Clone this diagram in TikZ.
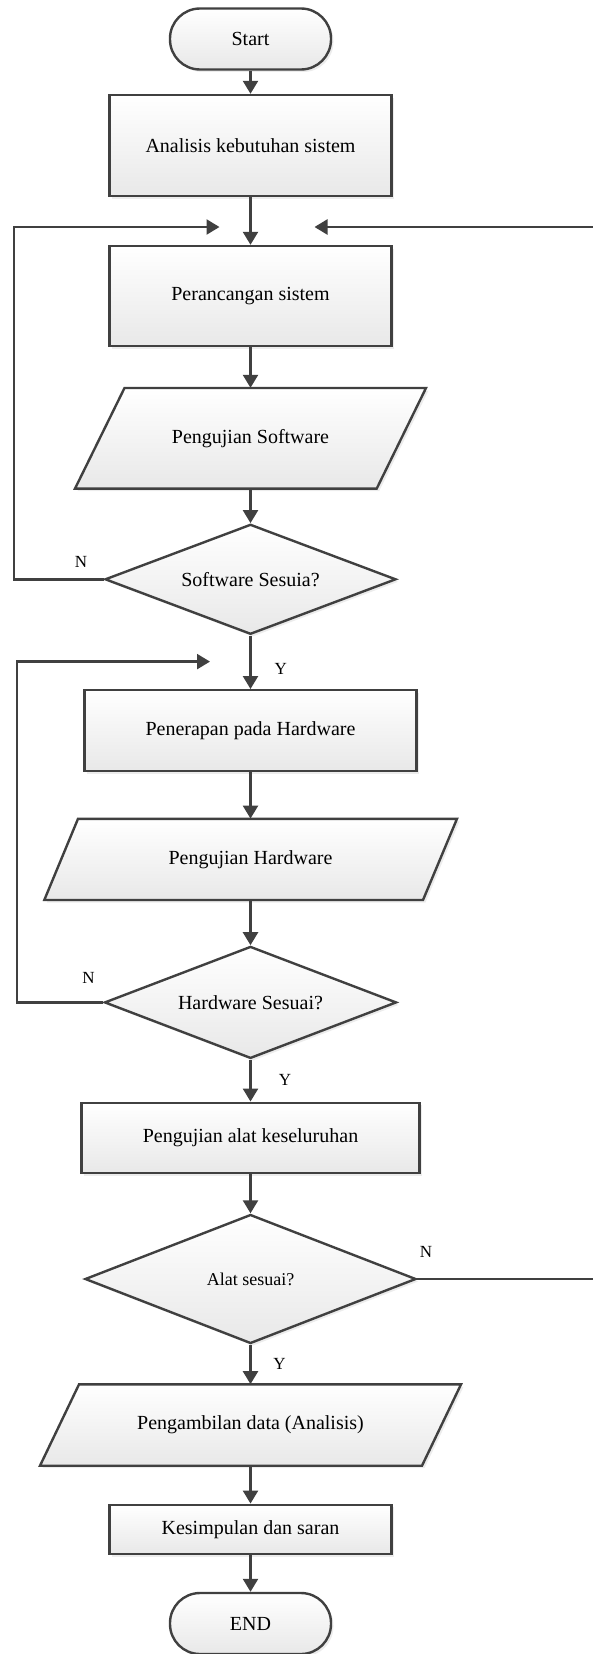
\documentclass[tikz,border=0pt]{standalone}
\usepackage{fontspec}
\setmainfont{Liberation Serif}
\usetikzlibrary{shapes.geometric,arrows.meta,shadows}
\definecolor{edgegray}{HTML}{404040}
\begin{document}
\begin{tikzpicture}[x=1pt,y=-1pt,
  skin/.style={draw=edgegray, line width=2.4pt, top color=white, bottom color=black!9,
    drop shadow={shadow xshift=2.5pt,shadow yshift=-2.5pt,opacity=0.15}},
  base/.style={skin, inner sep=0pt, text=black, font=\fontsize{20}{23}\selectfont},
  terminal/.style={base, rectangle, rounded corners=30pt, minimum width=161pt, minimum height=61pt},
  process/.style={base, rectangle},
  iotext/.style={rectangle, inner sep=0pt, text=black, font=\fontsize{20}{23}\selectfont},
  decision/.style={base, diamond},
  flow/.style={draw=edgegray, line width=2.4pt, -{Triangle[length=13pt,width=15pt]}},
  plain/.style={draw=edgegray, line width=2.4pt},
  lbl/.style={text=black, font=\fontsize{17}{20}\selectfont, inner sep=0pt}
]
\useasboundingbox (0,0) rectangle (593,1654);

% parallelogram outlines (data steps), text nodes placed on top below
\path[skin] (124.5,388) -- (426,388) -- (376.7,488.6) -- (75,488.6) -- cycle;
\path[skin] (78,818.8) -- (457,818.8) -- (423,900) -- (44.3,900) -- cycle;
\path[skin] (79,1384.4) -- (461,1384.4) -- (422,1465.7) -- (40,1465.7) -- cycle;

% main column
\node[terminal] (start) at (250.5,39) {Start};
\node[process, minimum width=282pt, minimum height=101pt] (ana) at (250.5,145.5) {Analisis kebutuhan sistem};
\node[process, minimum width=282pt, minimum height=100pt] (per) at (250.5,296) {Perancangan sistem};
\node[iotext, minimum width=300pt, minimum height=100.6pt] (psw) at (250.5,438.3) {Pengujian Software};
\node[decision, aspect=2.65, minimum width=291pt, minimum height=110pt] (dsw) at (250.5,579.3) {Software Sesuia?};
\node[process, minimum width=332pt, minimum height=81pt] (pen) at (250.5,730.7) {Penerapan pada Hardware};
\node[iotext, minimum width=378pt, minimum height=81.2pt] (phw) at (250.5,859.4) {Pengujian Hardware};
\node[decision, aspect=2.6, minimum width=292pt, minimum height=112pt] (dhw) at (250.5,1002.4) {Hardware Sesuai?};
\node[process, minimum width=338pt, minimum height=70.5pt] (alat) at (250.5,1138) {Pengujian alat keseluruhan};
\node[decision, aspect=2.57, minimum width=331pt, minimum height=129pt, font=\fontsize{18}{21}\selectfont] (dal) at (250.5,1279) {Alat sesuai?};
\node[iotext, minimum width=382pt, minimum height=81.3pt] (pdat) at (250.5,1425) {Pengambilan data (Analisis)};
\node[process, minimum width=282pt, minimum height=49.5pt] (kes) at (250.5,1529.5) {Kesimpulan dan saran};
\node[terminal] (fin) at (250.5,1623.5) {END};

% loop points
\coordinate (l1) at (13.7,227);
\coordinate (m1) at (219.5,227);
\coordinate (r1) at (600,227);
\coordinate (m2) at (314.5,227);
\coordinate (l2) at (17,661.6);
\coordinate (m3) at (210,661.6);
\coordinate (r2) at (600,1279);

% connectors
\draw[flow] (start) -- (ana);
\draw[flow] (ana) -- (per);
\draw[flow] (per) -- (psw);
\draw[flow] (psw) -- (dsw);
\draw[flow] (dsw) -- (pen);
\draw[flow] (pen) -- (phw);
\draw[flow] (phw) -- (dhw);
\draw[flow] (dhw) -- (alat);
\draw[flow] (alat) -- (dal);
\draw[flow] (dal) -- (pdat);
\draw[flow] (pdat) -- (kes);
\draw[flow] (kes) -- (fin);

\draw[flow] (dsw.west) -| (l1) -- (m1);
\draw[flow] (r1) -- (m2);
\draw[flow] (dhw.west) -| (l2) -- (m3);
\draw[plain] (dal.east) -- (r2);

% branch labels
\node[lbl] (n1) at (81,562) {N};
\node[lbl] (y1) at (280.7,669) {Y};
\node[lbl] (n2) at (88.6,978) {N};
\node[lbl] (y2) at (285,1079.5) {Y};
\node[lbl] (n3) at (426,1251.5) {N};
\node[lbl] (y3) at (279.6,1364) {Y};
\end{tikzpicture}
\end{document}
